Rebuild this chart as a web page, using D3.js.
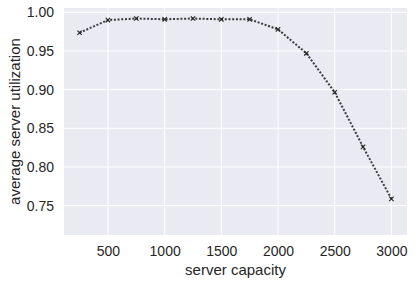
<!DOCTYPE html>
<html>
<head>
<meta charset="utf-8">
<script src="https://cdn.jsdelivr.net/npm/d3@7"></script>
<style>
  body { margin: 0; background: #fff; }
  text { font-family: "Liberation Sans", Arial, sans-serif; fill: #262626; }
</style>
</head>
<body>
<svg id="chart" width="415" height="285"></svg>
<script>
var capacity = [250, 500, 750, 1000, 1250, 1500, 1750, 2000, 2250, 2500, 2750, 3000];
var utilization = [0.9736, 0.990, 0.992, 0.991, 0.992, 0.991, 0.991, 0.978, 0.947, 0.8966, 0.826, 0.7587];
var xTicks = [500, 1000, 1500, 2000, 2500, 3000];
var yTicks = [0.75, 0.80, 0.85, 0.90, 0.95, 1.00];

var margin = {left: 64, right: 8, top: 8, bottom: 50};
var width = 415, height = 285;

var svg = d3.select("#chart");

var x = d3.scaleLinear().domain([112.5, 3137.5]).range([margin.left, width - margin.right]);
var y = d3.scaleLinear().domain([0.712, 1.0056]).range([height - margin.bottom, margin.top]);

// background
svg.append("rect")
    .attr("x", margin.left)
    .attr("y", margin.top)
    .attr("width", width - margin.left - margin.right)
    .attr("height", height - margin.top - margin.bottom)
    .attr("fill", "#eaeaf2");

// grid
svg.append("g")
    .selectAll("line")
    .data(xTicks)
    .enter().append("line")
    .attr("x1", function(d) { return x(d); })
    .attr("x2", function(d) { return x(d); })
    .attr("y1", margin.top)
    .attr("y2", height - margin.bottom)
    .attr("stroke", "#fff")
    .attr("stroke-width", 1);

svg.append("g")
    .selectAll("line")
    .data(yTicks)
    .enter().append("line")
    .attr("x1", margin.left)
    .attr("x2", width - margin.right)
    .attr("y1", function(d) { return y(d); })
    .attr("y2", function(d) { return y(d); })
    .attr("stroke", "#fff")
    .attr("stroke-width", 1);

// axes (labels only, like seaborn darkgrid)
var xAxis = svg.append("g")
    .attr("transform", "translate(0," + (height - margin.bottom) + ")")
    .call(d3.axisBottom(x).tickValues(xTicks).tickSize(0).tickPadding(11).tickFormat(d3.format("d")));
xAxis.select(".domain").remove();
xAxis.selectAll("text").style("font-size", "14px").attr("fill", "#262626");

var yAxis = svg.append("g")
    .attr("transform", "translate(" + margin.left + ",0)")
    .call(d3.axisLeft(y).tickValues(yTicks).tickSize(0).tickPadding(10).tickFormat(d3.format(".2f")));
yAxis.select(".domain").remove();
yAxis.selectAll("text").style("font-size", "14px").attr("fill", "#262626");

// axis titles
svg.append("text")
    .attr("x", (margin.left + width - margin.right) / 2)
    .attr("y", 275)
    .attr("text-anchor", "middle")
    .style("font-size", "15px")
    .text("server capacity");

svg.append("text")
    .attr("transform", "translate(20," + ((margin.top + height - margin.bottom) / 2) + ") rotate(-90)")
    .attr("text-anchor", "middle")
    .style("font-size", "15px")
    .text("average server utilization");

// line
var line = d3.line()
    .x(function(d, i) { return x(capacity[i]); })
    .y(function(d) { return y(d); });

svg.append("path")
    .datum(utilization)
    .attr("d", line)
    .attr("fill", "none")
    .attr("stroke", "#3a3a3a")
    .attr("stroke-width", 2)
    .attr("stroke-dasharray", "2,1.7");

// x markers
var s = 2.2;
svg.append("g")
    .selectAll("path")
    .data(utilization)
    .enter().append("path")
    .attr("d", function(d, i) {
        var cx = x(capacity[i]), cy = y(d);
        return "M" + (cx - s) + "," + (cy - s) + "L" + (cx + s) + "," + (cy + s) +
               "M" + (cx - s) + "," + (cy + s) + "L" + (cx + s) + "," + (cy - s);
    })
    .attr("stroke", "#222")
    .attr("stroke-width", 1.1);
</script>
</body>
</html>
